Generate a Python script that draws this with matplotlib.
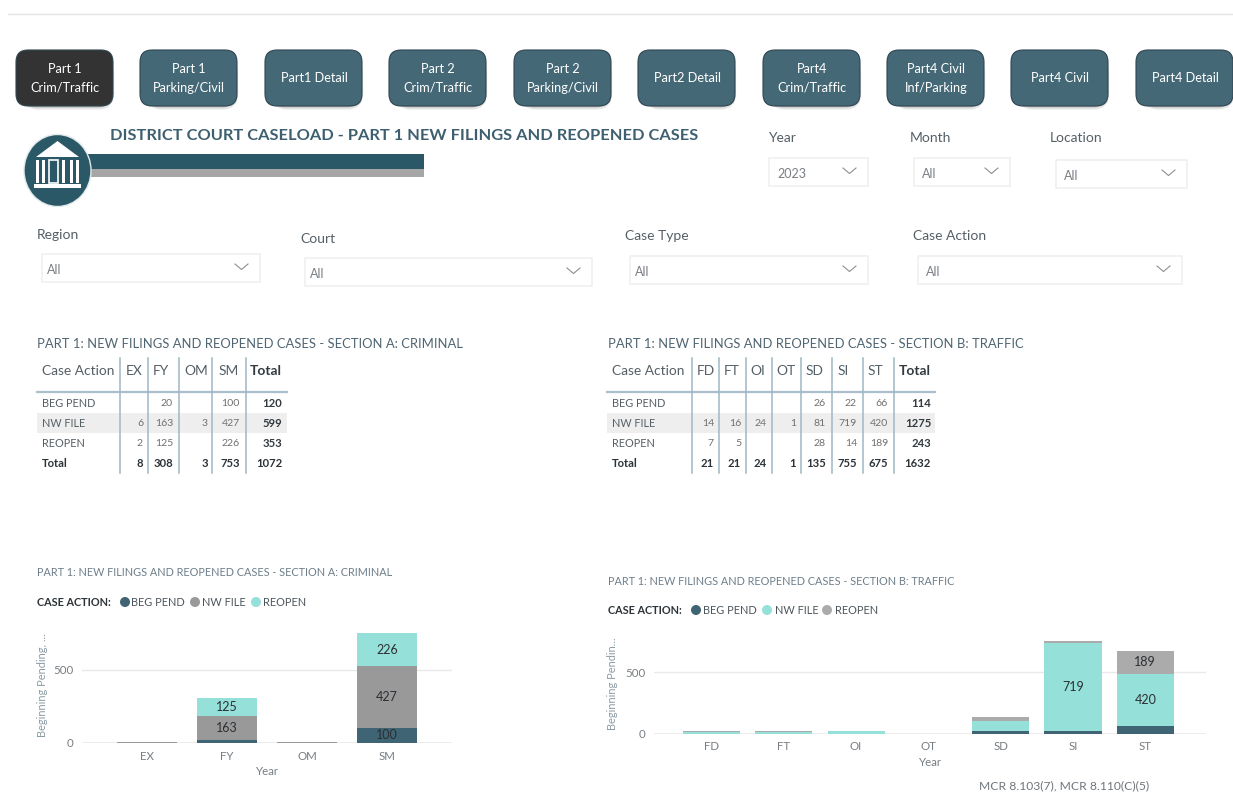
import numpy as np
import matplotlib
matplotlib.use('Agg')
import matplotlib.pyplot as plt
from matplotlib.patches import FancyBboxPatch, Rectangle, Ellipse, Polygon

plt.rcParams['font.family'] = ['Lato', 'DejaVu Sans']

W, H = 1233, 795

# data
button_labels = ['Part 1\nCrim/Traffic', 'Part 1\nParking/Civil', 'Part1 Detail', 'Part 2\nCrim/Traffic',
                 'Part 2\nParking/Civil', 'Part2 Detail', 'Part4\nCrim/Traffic', 'Part4 Civil\nInf/Parking',
                 'Part4 Civil', 'Part4 Detail']
case_actions = ['BEG PEND', 'NW FILE', 'REOPEN']

crim_codes = ['EX', 'FY', 'OM', 'SM']
crim_beg = [0, 20, 0, 100]
crim_new = [6, 163, 3, 427]
crim_reopen = [2, 125, 0, 226]
crim_row_totals = [120, 599, 353]
crim_col_totals = [8, 308, 3, 753]
crim_total = 1072

traf_codes = ['FD', 'FT', 'OI', 'OT', 'SD', 'SI', 'ST']
traf_beg = [0, 0, 0, 0, 26, 22, 66]
traf_new = [14, 16, 24, 1, 81, 719, 420]
traf_reopen = [7, 5, 0, 0, 28, 14, 189]
traf_row_totals = [114, 1275, 243]
traf_col_totals = [21, 21, 24, 1, 135, 755, 675]
traf_total = 1632

# colours
TEAL = '#3f6473'
DARKTEAL = '#2b5866'
MINT = '#95e0d8'
GRAY = '#999999'
LGRAY = '#ababab'
TXT = '#555f66'

fig = plt.figure(figsize=(W / 100, H / 100), dpi=100, facecolor='white')

# page axes in pixels, for all the furniture
page = fig.add_axes([0, 0, 1, 1])
page.set_xlim(0, W)
page.set_ylim(H, 0)
page.axis('off')


def px(size):
    return size * 0.72


def label(x, y, s, **kw):
    # lato sits a bit high with va=center
    page.text(x, y + 1.5, s, va='center', **kw)


page.plot([8, 1233], [14, 14], color='#e2e2e2', lw=1)

# buttons
button_x = [16, 140, 265, 389, 514, 638, 763, 887, 1011, 1136]
for i, (bx, name) in enumerate(zip(button_x, button_labels)):
    col = '#333333' if i == 0 else '#446876'
    for off, alpha in [(6, 0.10), (4, 0.18), (2, 0.25)]:
        page.add_patch(FancyBboxPatch((bx + 8 + off * 0.6, 58 + off), 81, 40, boxstyle='round,pad=0,rounding_size=10',
                                      mutation_aspect=1, fc='black', ec='black', lw=8, alpha=alpha))
    page.add_patch(FancyBboxPatch((bx + 9, 59), 79, 38, boxstyle='round,pad=9,rounding_size=12',
                                  fc=col, ec='#2f4550', lw=0.8, zorder=3))
    page.text(bx + 49, 78.5, name, color='white', ha='center', va='center', fontsize=px(12.7),
              linespacing=1.7, zorder=4)

# heading and logo
label(110, 134.5, 'DISTRICT COURT CASELOAD - PART 1 NEW FILINGS AND REOPENED CASES', color='#3d5f70',
      fontsize=px(16.4), fontweight='bold', ha='left')
page.add_patch(Rectangle((88, 154), 336, 15, fc=DARKTEAL, ec='none'))
page.add_patch(Rectangle((88, 169), 336, 8, fc='#a6a6a6', ec='none'))
page.add_patch(Ellipse((57.5, 170.5), 67, 72, fc=DARKTEAL, ec='#dfe8ea', lw=1, zorder=3))
page.add_patch(Polygon([[36, 157], [57.5, 141], [79, 157]], fc='white', ec='none', zorder=4))
for cx in [37, 43, 71, 77]:
    page.add_patch(Rectangle((cx - 1.5, 160), 3, 23, fc='white', ec='none', zorder=4))
page.add_patch(Rectangle((49, 160), 9, 23, fc='none', ec='white', lw=1.2, zorder=4))
page.add_patch(Rectangle((62, 160), 3, 23, fc='white', ec='none', zorder=4))
page.add_patch(Rectangle((34, 184), 47, 4, fc='white', ec='none', zorder=4))

# slicers: label, label x, label y, box left, box right, box top, value
slicers = [('Year', 768, 136, 769, 868, 158, '2023'),
           ('Month', 910, 136, 914, 1010, 158, 'All'),
           ('Location', 1050, 137, 1056, 1187, 160, 'All'),
           ('Region', 37, 233.5, 42, 260, 254, 'All'),
           ('Court', 300, 237.5, 305, 592, 258, 'All'),
           ('Case Type', 625, 234.5, 630, 868, 256, 'All'),
           ('Case Action', 913, 234.5, 918, 1182, 256, 'All')]
for name, lx, ly, x0, x1, y0, val in slicers:
    label(lx, ly, name, color=TXT, fontsize=px(13.9), ha='left')
    page.add_patch(Rectangle((x0, y0), x1 - x0, 28, fc='white', ec='#efefef', lw=1.1))
    label(x0 + 5 if x0 < 700 else x0 + 8, y0 + 15, val, color='#7a7f84', fontsize=px(12.5), ha='left')
    page.plot([x1 - 25, x1 - 18.5, x1 - 12], [y0 + 10, y0 + 15.5, y0 + 10], color='#8a8f94', lw=0.8)


def draw_table(title, codes, rows, row_tot, col_tot, total, left, right, seps, num_x, head_x, total_head_x, title_x):
    label(title_x, 342.5, title, color='#4f6572', fontsize=px(13), ha='left')
    page.add_patch(Rectangle((left, 413), right - left, 20, fc='#eeeeee', ec='none'))
    page.plot([left, right], [392, 392], color='#a9bfcb', lw=1.6)
    for s in seps:
        page.plot([s, s], [358, 473], color='#9fb8c4', lw=1.1)
    label(left + 5, 369.5, 'Case Action', color=TXT, fontsize=px(13.8), ha='left')
    for c, hx in zip(codes, head_x):
        label(hx, 369.5, c, color=TXT, fontsize=px(13.8), ha='center')
    label(total_head_x, 369.5, 'Total', color='#333b40', fontsize=px(13.8), ha='center', fontweight='bold')
    row_y = [403, 423, 443]
    for y, name, vals, rt in zip(row_y, case_actions, rows, row_tot):
        label(left + 5, y - 1, name, color=TXT, fontsize=px(10.9), ha='left')
        for v, nx in zip(vals, num_x[:-1]):
            if v:
                label(nx, y - 1.5, str(v), color='#707070', fontsize=px(10.5), ha='right')
        label(num_x[-1], y - 1, str(rt), color='#333b40', fontsize=px(11.2), ha='right', fontweight='bold')
    label(left + 5, 462, 'Total', color='#2c3338', fontsize=px(11.2), ha='left', fontweight='bold')
    for v, nx in zip(list(col_tot) + [total], num_x):
        label(nx, 462, str(v), color='#2c3338', fontsize=px(11.2), ha='right', fontweight='bold')


draw_table('PART 1: NEW FILINGS AND REOPENED CASES - SECTION A: CRIMINAL', crim_codes,
           [crim_beg, crim_new, crim_reopen], crim_row_totals, crim_col_totals, crim_total,
           37, 287, [120, 148, 179, 212, 246], [143, 173, 208, 240, 282], [134, 161, 196, 229], 266, 37)
draw_table('PART 1: NEW FILINGS AND REOPENED CASES - SECTION B: TRAFFIC', traf_codes,
           [traf_beg, traf_new, traf_reopen], traf_row_totals, traf_col_totals, traf_total,
           607, 935, [692, 719, 746, 772, 801, 832, 863, 894], [714, 741, 767, 796, 826, 857, 888, 931],
           [706, 732, 758, 786, 814, 843, 875], 915, 608)


def draw_chart(codes, beg, new, reopen, colors, x0, x1, top, base, y500, cat0, step, width, ylabel, ylabel_x, ylabel_y,
               xpad, xlabelpad):
    ax = fig.add_axes([x0 / W, 1 - base / H, (x1 - x0) / W, (base - top) / H])
    ax.patch.set_alpha(0)
    pos = np.arange(len(codes))
    b = np.array(beg)
    n = np.array(new)
    r = np.array(reopen)
    ax.axhline(0, color='#e9e9e9', lw=1.2, zorder=1)
    ax.axhline(500, color='#e9e9e9', lw=1, zorder=1)
    bars = [ax.bar(pos, b, width, color=colors[0], zorder=2),
            ax.bar(pos, n, width, bottom=b, color=colors[1], zorder=2),
            ax.bar(pos, r, width, bottom=b + n, color=colors[2], zorder=2)]
    for cont, vals in zip(bars, [b, n, r]):
        for rect, v in zip(cont, vals):
            if v >= 100:
                ax.text(rect.get_x() + rect.get_width() / 2, rect.get_y() + v / 2, str(v), ha='center', va='center',
                        color='#2b2f33', fontsize=px(12.5), zorder=3)
    ax.set_xlim((x0 - cat0) / step, (x1 - cat0) / step)
    ax.set_ylim(0, (base - top) / ((base - y500) / 500))
    ax.set_yticks([0, 500])
    ax.set_xticks(pos)
    ax.set_xticklabels(codes)
    ax.tick_params(length=0, labelsize=px(11.5), labelcolor='#777d82')
    ax.tick_params(axis='y', pad=6)
    ax.tick_params(axis='x', pad=xpad)
    for s in ax.spines.values():
        s.set_visible(False)
    ax.set_xlabel('Year', fontsize=px(11.5), color='#777d82', labelpad=xlabelpad)
    page.text(ylabel_x, ylabel_y, ylabel, rotation=90, ha='center', va='center', color='#8a9aa3', fontsize=px(11))


def draw_legend(y, title_x, title, dots, colors):
    label(title_x, y - 0.5, title, color='#2c3338', fontsize=px(10.9), fontweight='bold', ha='left')
    for (dx, tx), name, col in zip(dots, case_actions, colors):
        page.add_patch(Ellipse((dx, y), 10, 10, fc=col, ec='none'))
        label(tx, y - 0.5, name, color='#4d565c', fontsize=px(11), ha='left')


crim_colors = [TEAL, GRAY, MINT]
traf_colors = [TEAL, MINT, LGRAY]

label(37, 571, 'PART 1: NEW FILINGS AND REOPENED CASES - SECTION A: CRIMINAL', color='#6d7f8a',
      fontsize=px(10.9), ha='left')
draw_legend(602, 37, 'CASE ACTION:', [(125, 131), (195, 202), (256, 263)], crim_colors)
draw_chart(crim_codes, crim_beg, crim_new, crim_reopen, crim_colors, 82, 452, 620, 742.7, 670, 147, 80, 0.76,
           'Beginning Pending, ...', 43, 685, 6, 3)

label(608, 580, 'PART 1: NEW FILINGS AND REOPENED CASES - SECTION B: TRAFFIC', color='#6d7f8a',
      fontsize=px(10.9), ha='left')
draw_legend(610, 608, 'CASE ACTION:', [(696, 703), (767, 775), (827, 835)], traf_colors)
draw_chart(traf_codes, traf_beg, traf_new, traf_reopen, traf_colors, 653.6, 1206, 615, 734, 672.3, 711.5, 72.3, 0.79,
           'Beginning Pendin...', 613, 684, 5, 4)

label(979, 784, 'MCR 8.103(7), MCR 8.110(C)(5)', color='#6f767b', fontsize=px(12.1), ha='left')

fig.savefig('out.png', dpi=100, facecolor='white')
